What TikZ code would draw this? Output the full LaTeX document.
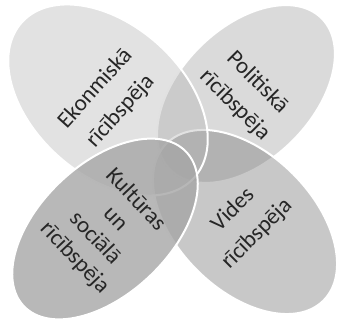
\documentclass[tikz,border=0pt]{standalone}
\usepackage{fontspec}
\setmainfont{Carlito}
\usetikzlibrary{shapes.geometric}
\tikzset{
x=1pt, y=1pt, % one unit is one pixel of the picture
capacity/.style={ellipse, draw=white, line width=2pt, inner sep=0pt, align=center, text=black!85, text opacity=1, font=\fontsize{23}{28}\selectfont}, % sets the look of each ellipse
}

\begin{document}
\begin{tikzpicture}
    \useasboundingbox (0,0) rectangle (337,323);
    \node[capacity, rotate=-45, minimum width=132, minimum height=214, fill=black!36, fill opacity=0.4] (pol) at (246,229) {Politiskā\\[4pt]rīcībspēja};
    \node[capacity, rotate=45, minimum width=136, minimum height=222, fill=black!52, fill opacity=0.41] (vid) at (245,101) {Vides\\[6pt]rīcībspēja};
    \node[capacity, rotate=48, minimum width=150, minimum height=232, fill=black!30, fill opacity=0.38] (eko) at (108,223) {Ekonmiskā\\[6pt]rīcībspēja};
    \node[capacity, rotate=-46.5, minimum width=130, minimum height=224, fill=black!35, fill opacity=0.8] (kul) at (105,94) {Kultūras\\un\\sociālā\\rīcībspēja};
\end{tikzpicture}
\end{document}
